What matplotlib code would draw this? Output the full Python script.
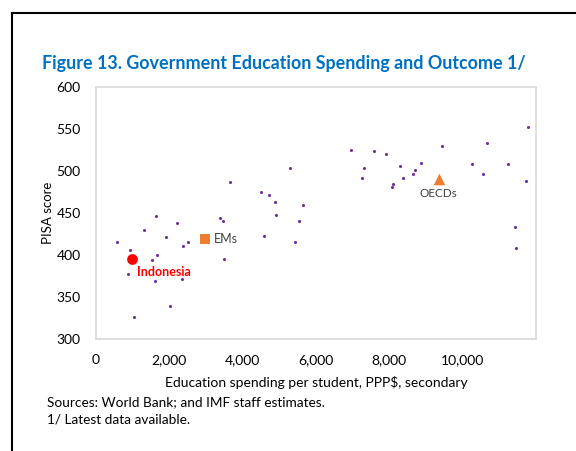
import matplotlib
matplotlib.use('Agg')
from matplotlib import pyplot as plt
from matplotlib.lines import Line2D

plt.rcParams['font.family'] = ['Lato', 'DejaVu Sans']

# country points: spending per student (PPP$) and PISA score
spend = [5280, 3650, 4500, 4720, 4870, 5650, 4900, 5530, 1640, 2220,
         3390, 3460, 1320, 1920, 4580, 5430, 580, 2500, 2370, 2890,
         930, 1660, 1520, 3500, 860, 1600, 2350, 2030, 1030,
         11770, 10660, 9430, 6950, 7590, 7900, 8860, 10260, 11240, 7320,
         8290, 8710, 8650, 10550, 7250, 8360, 11730, 8090, 8070, 11440,
         11460]
pisa = [504, 487, 475, 472, 463, 459, 448, 440, 447, 438,
        444, 440, 430, 422, 423, 415, 415, 416, 411, 415,
        406, 400, 394, 395, 377, 369, 371, 339, 326,
        552, 533, 530, 525, 524, 520, 510, 508, 508, 503,
        506, 501, 497, 496, 492, 492, 488, 485, 481, 433,
        408]

indonesia = (975, 395)
ems = (2980, 419)
oecds = (9350, 491)

fig = plt.figure(figsize=(5.76, 4.51), dpi=100)
ax = fig.add_axes([96 / 576, 1 - 339 / 451, 440 / 576, 252 / 451])

ax.scatter(spend, pisa, s=5, color='#7030A0', zorder=3, linewidths=0)
ax.scatter(*indonesia, s=60, color='#FF0000', zorder=4, linewidths=0)
ax.scatter(*ems, s=45, marker='s', color='#ED7D31', zorder=4, linewidths=0)
ax.scatter(*oecds, s=70, marker='^', color='#ED7D31', zorder=4, linewidths=0)

ax.annotate('Indonesia', indonesia, xytext=(4, -9), textcoords='offset points',
            color='#FF0000', fontsize=9, fontweight='bold', va='center')
ax.annotate('EMs', ems, xytext=(6, 0), textcoords='offset points',
            color='#404040', fontsize=9, va='center')
ax.annotate('OECDs', oecds, xytext=(0, -11), textcoords='offset points',
            color='#404040', fontsize=8.5, ha='center', va='center')

ax.set_xlim(0, 12000)
ax.set_ylim(300, 600)
ax.set_xticks([0, 2000, 4000, 6000, 8000, 10000])
ax.set_xticklabels(['0', '2,000', '4,000', '6,000', '8,000', '10,000'])
ax.set_yticks([300, 350, 400, 450, 500, 550, 600])
ax.tick_params(length=0, labelsize=10, colors='#000000')
ax.tick_params(axis='x', pad=11)
ax.tick_params(axis='y', pad=11)
for spine in ax.spines.values():
    spine.set_color('#D9D9D9')
    spine.set_linewidth(1.2)

ax.set_xlabel('Education spending per student, PPP$, secondary', fontsize=10)
ax.set_ylabel('PISA score', fontsize=9.5)
ax.xaxis.set_label_coords(0.5, -0.147)
ax.yaxis.set_label_coords(-0.095, 0.5)

fig.text(42 / 576, 1 - 63 / 451, 'Figure 13. Government Education Spending and Outcome 1/',
         color='#0070C0', fontsize=12.9, fontweight='bold', va='center')
fig.text(47 / 576, 1 - 402 / 451, 'Sources: World Bank; and IMF staff estimates.',
         fontsize=9.8, va='center')
fig.text(47 / 576, 1 - 420 / 451, '1/ Latest data available.',
         fontsize=9.8, va='center')

# outer frame, cut off at the right and bottom
fig.add_artist(Line2D([12 / 576, 12 / 576], [0, 1 - 13 / 451], color='black', lw=1.5))
fig.add_artist(Line2D([12 / 576, 1], [1 - 13 / 451, 1 - 13 / 451], color='black', lw=1.5))

fig.savefig('out.png', dpi=100)
